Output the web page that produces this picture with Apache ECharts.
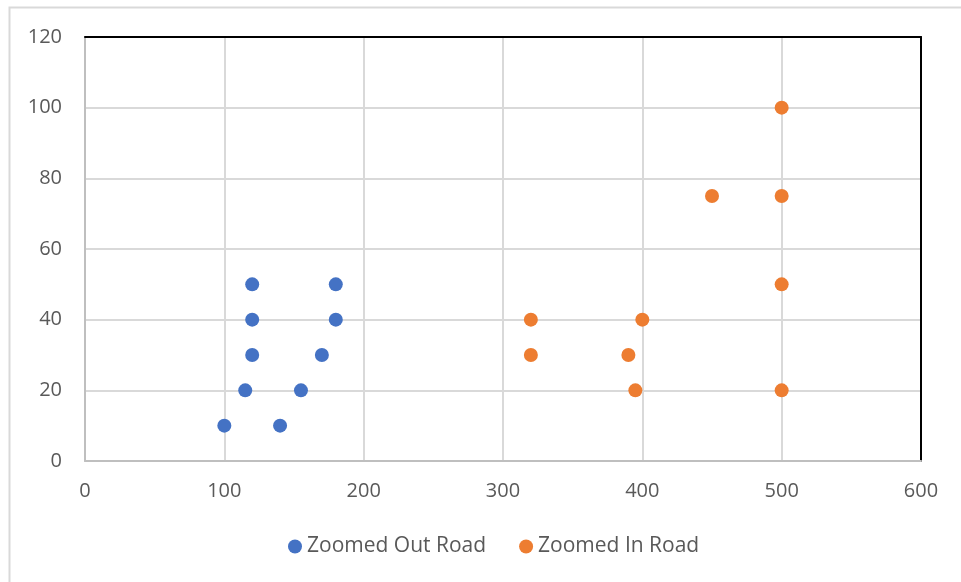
<!DOCTYPE html>
<html>
<head>
<meta charset="utf-8">
<script src="https://cdn.jsdelivr.net/npm/echarts@6/dist/echarts.min.js"></script>
<style>html,body{margin:0;padding:0;background:#fff;}#c{width:961px;height:582px;}</style>
</head>
<body>
<div id="c"></div>
<script>
const seriesNames = ["Zoomed Out Road", "Zoomed In Road"];
const outX = [100, 115, 120, 120, 120, 140, 155, 170, 180, 180];
const outY = [10, 20, 30, 40, 50, 10, 20, 30, 40, 50];
const inX = [320, 320, 390, 395, 400, 450, 500, 500, 500, 500];
const inY = [40, 30, 30, 20, 40, 75, 100, 75, 50, 20];
const xTicks = [0, 100, 200, 300, 400, 500, 600];
const yTicks = [0, 20, 40, 60, 80, 100, 120];

const font = '"Open Sans", sans-serif';
const chart = echarts.init(document.getElementById('c'));
const frameAxis = {
  axisLine: { show: true, onZero: false, lineStyle: { color: '#000', width: 2 } },
  axisTick: { show: false }, axisLabel: { show: false }, splitLine: { show: false }
};
chart.setOption({
  animation: false,
  textStyle: { fontFamily: font },
  graphic: [{
    type: 'rect', shape: { x: 9.5, y: 7.5, width: 970, height: 600 },
    style: { fill: 'none', stroke: '#d9d9d9', lineWidth: 2 }, z: -1
  }],
  grid: { left: 85, top: 37, width: 836, height: 424 },
  legend: {
    top: 531, left: 283, itemWidth: 14, itemHeight: 14, itemGap: 33,
    textStyle: { fontSize: 21, color: '#595959', fontFamily: font },
    data: seriesNames.map(n => ({ name: n, icon: 'circle' }))
  },
  xAxis: [{
    type: 'value', min: xTicks[0], max: xTicks[xTicks.length - 1], interval: 100,
    axisLine: { show: true, onZero: false, lineStyle: { color: '#bfbfbf', width: 2 } },
    axisTick: { show: false },
    splitLine: { show: true, lineStyle: { color: '#d9d9d9', width: 2 } },
    axisLabel: { fontSize: 20, color: '#595959', margin: 20, fontFamily: font }
  }, Object.assign({ type: 'value', position: 'top', min: 0, max: 600 }, frameAxis)],
  yAxis: [{
    type: 'value', min: yTicks[0], max: yTicks[yTicks.length - 1], interval: 20,
    axisLine: { show: true, onZero: false, lineStyle: { color: '#bfbfbf', width: 2 } },
    axisTick: { show: false },
    splitLine: { show: true, lineStyle: { color: '#d9d9d9', width: 2 } },
    axisLabel: { fontSize: 20, color: '#595959', margin: 23, fontFamily: font }
  }, Object.assign({ type: 'value', position: 'right', min: 0, max: 120 }, frameAxis)],
  series: [
    { name: seriesNames[0], type: 'scatter', symbolSize: 14, z: 5, itemStyle: { color: '#4472C4', opacity: 1 },
      data: outX.map((x, i) => [x, outY[i]]) },
    { name: seriesNames[1], type: 'scatter', symbolSize: 14, z: 5, itemStyle: { color: '#ED7D31', opacity: 1 },
      data: inX.map((x, i) => [x, inY[i]]) }
  ]
});
</script>
</body>
</html>
